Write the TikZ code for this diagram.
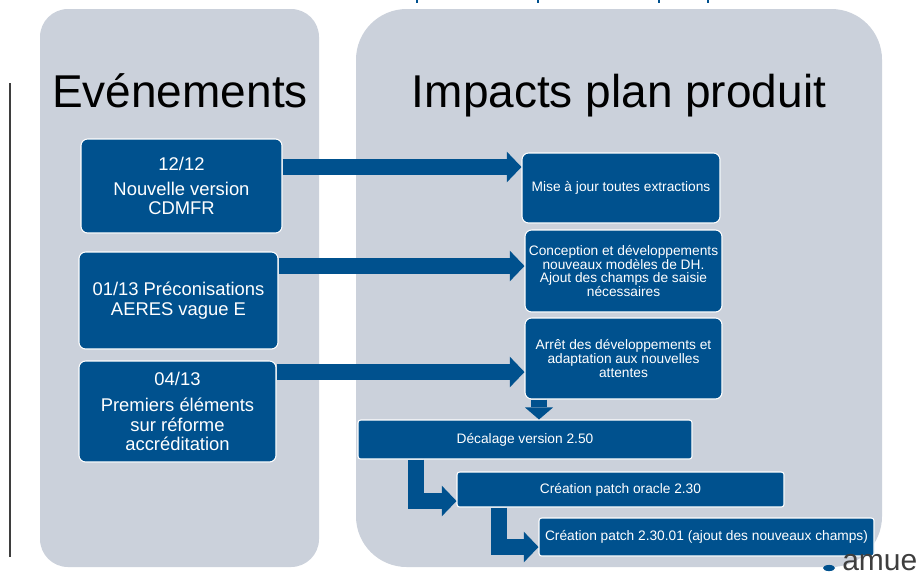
\documentclass[tikz,border=0pt]{standalone}
\usepackage{fontspec}
\setmainfont{Liberation Sans}
\usetikzlibrary{arrows.meta}
\definecolor{panelgray}{RGB}{203,209,219}
\definecolor{boxblue}{RGB}{0,81,142}
\definecolor{logogray}{RGB}{62,62,62}
\tikzset{
  title/.style={font=\fontsize{34.5}{40}\selectfont, inner sep=0pt, anchor=base},
  evtbox/.style={fill=boxblue, draw=white, line width=.8pt, rounded corners=5pt,
    text=white, align=center, inner sep=0pt, font=\fontsize{13.8}{14.5}\selectfont},
  impbox/.style={evtbox, font=\fontsize{10.3}{10.3}\selectfont},
  stepbox/.style={evtbox, rounded corners=2pt, font=\fontsize{10.3}{10.3}\selectfont},
  flow/.style={draw=boxblue, line width=11.5pt,
    -{Triangle[width=23pt,length=11pt,line width=0pt]}},
}
\begin{document}
\begin{tikzpicture}[x=.75pt,y=-.75pt]
\useasboundingbox (0,0) rectangle (919,583);
% background panels
\fill[panelgray,rounded corners=21pt] (40,9) rectangle (319,567);
\fill[panelgray,rounded corners=38pt] (356,9) rectangle (882,567);
\draw[logogray,line width=1.8pt] (10,83) -- (10,557);
\foreach \xx in {417,538,659,708}
  \fill[boxblue] (\xx-1,0) rectangle (\xx+1,3);
% titles
\node[title] (tevt) at (180,107) {Evénements};
\node[title] (timp) at (619,107) {Impacts plan produit};
% events
\node[evtbox,minimum width=150.75pt,minimum height=70.5pt] (ev1) at (181.5,186)
  {12/12\\[4.5pt]Nouvelle version\\CDMFR};
\node[evtbox,minimum width=149.25pt,minimum height=72.75pt] (ev2) at (178.5,300.5)
  {01/13 Préconisations\\AERES vague E};
\node[evtbox,minimum width=147.75pt,minimum height=75.75pt] (ev3) at (177.5,411.5)
  {04/13\\[5pt]Premiers éléments\\sur réforme\\accréditation};
% impacts
\node[impbox,minimum width=148.5pt,minimum height=52.5pt] (imp1) at (621,188)
  {Mise à jour toutes extractions};
\node[impbox,minimum width=147.75pt,minimum height=61.5pt] (imp2) at (623.5,271)
  {Conception et développements\\nouveaux modèles de DH.\\Ajout des champs de saisie\\nécessaires};
\node[impbox,minimum width=147.75pt,minimum height=60.75pt] (imp3) at (623.5,358.5)
  {Arrêt des développements et\\adaptation aux nouvelles\\attentes};
\node[stepbox,minimum width=250.5pt,minimum height=29.25pt] (decal) at (525,439.5)
  {Décalage version 2.50};
\node[stepbox,minimum width=245.25pt,minimum height=26.25pt] (oracle) at (620.5,489.5)
  {Création patch oracle 2.30};
\node[stepbox,minimum width=251.25pt,minimum height=28.5pt] (patch) at (706.5,537)
  {Création patch 2.30.01 (ajout des nouveaux champs)};
% arrows
\draw[flow] (ev1.east |- 0,167) -- (imp1.west |- 0,167);
\draw[flow] (ev2.east |- 0,266) -- (imp2.west |- 0,266);
\draw[flow] (ev3.east |- 0,372) -- (imp3.west |- 0,372);
\draw[flow,-{Triangle[width=21pt,length=9pt,line width=0pt]}]
  (imp3.south -| 539,0) -- (decal.north -| 539,0);
\draw[flow] (decal.south -| 416,0) |- (oracle.west |- 0,501);
\draw[flow] (oracle.south -| 499,0) |- (patch.west |- 0,547);
% logo
\fill[boxblue] (829,568) ellipse (4.5pt and 2.3pt);
\node[font=\fontsize{22.5}{22.5}\selectfont,text=logogray,anchor=base west,inner sep=0pt]
  (logo) at (842,570) {amue};
\end{tikzpicture}
\end{document}
